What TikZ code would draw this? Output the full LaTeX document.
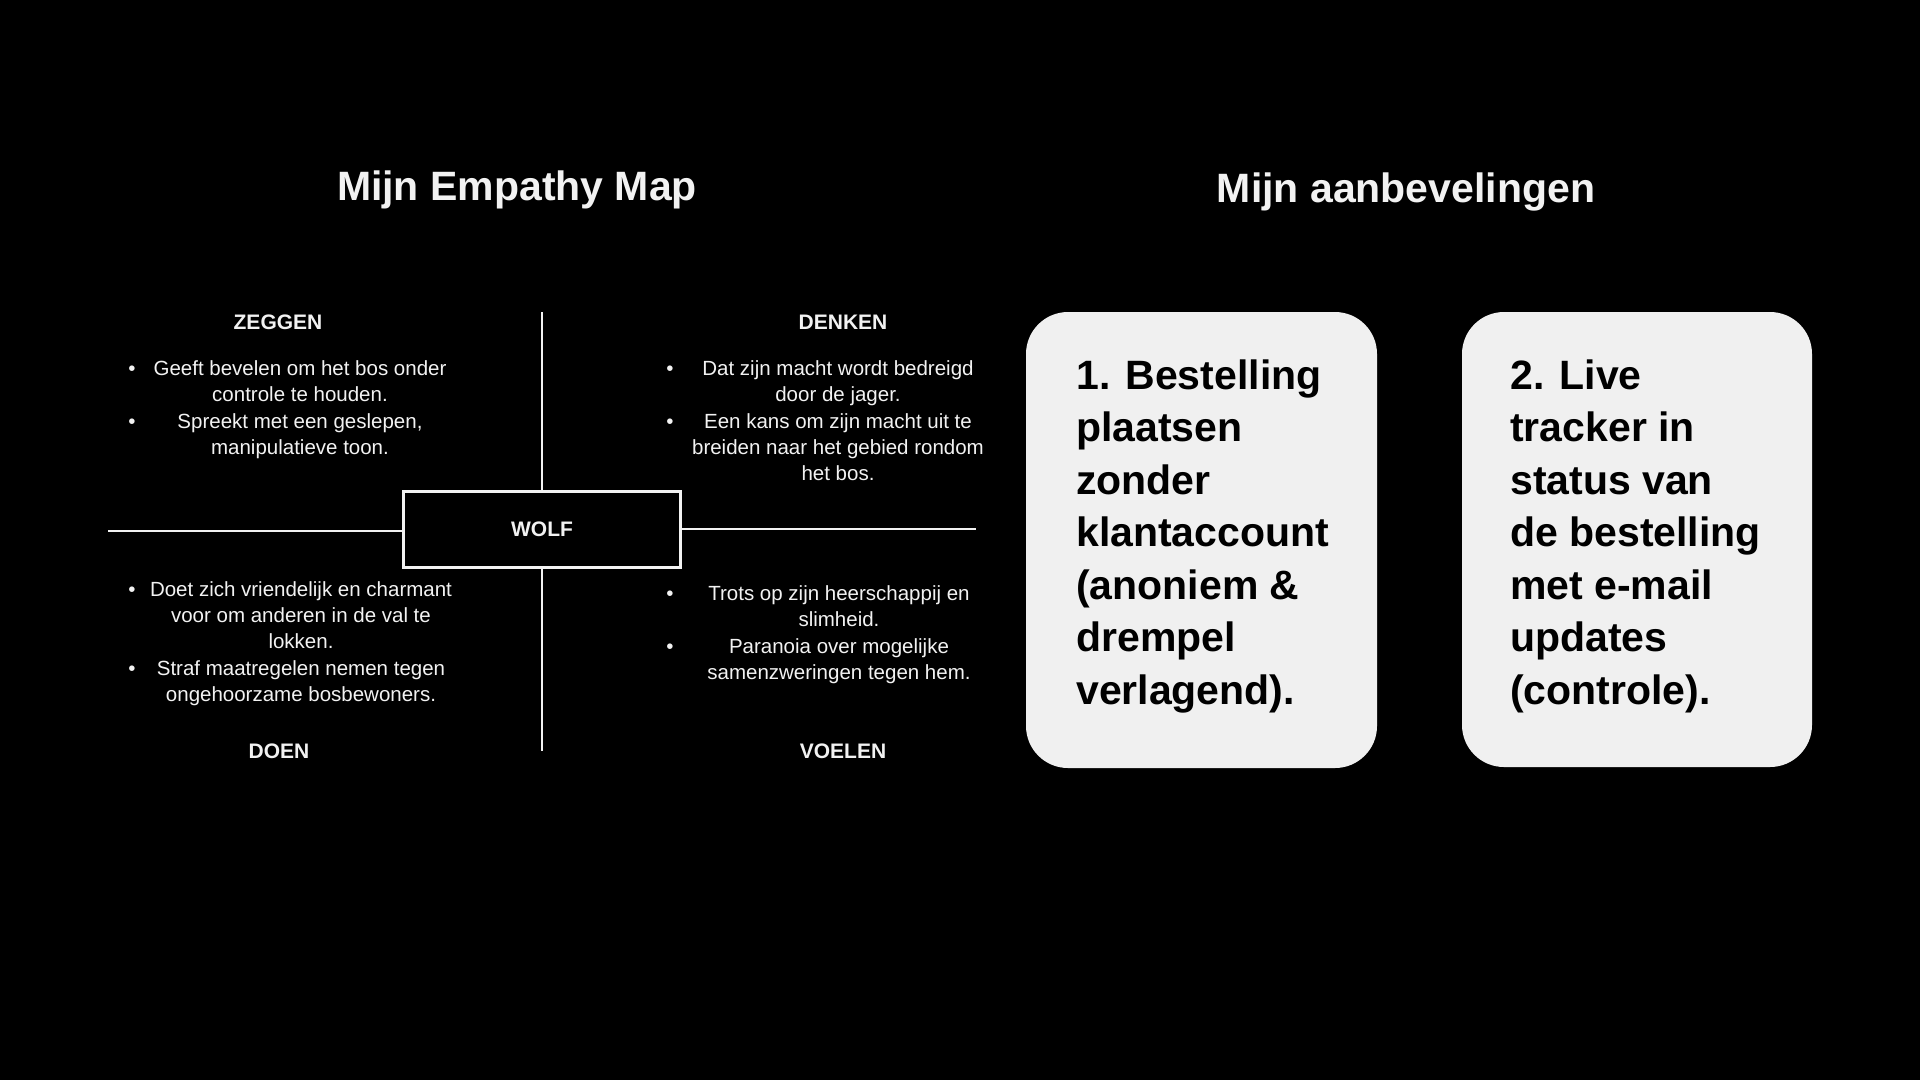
\documentclass[tikz,border=0pt]{standalone}
\usepackage{fontspec}
\setmainfont{Liberation Sans}
\definecolor{fg}{HTML}{F2F2F2}
\definecolor{card}{HTML}{F0F0F0}
\begin{document}
\begin{tikzpicture}[x=1pt,y=-1pt,
  title/.style={anchor=base, text=fg, inner sep=0pt, font=\fontsize{41}{49}\selectfont\bfseries},
  quad/.style={anchor=base, text=fg, inner sep=0pt, font=\fontsize{21}{25}\selectfont\bfseries},
  item/.style={anchor=north, text=fg, inner sep=0pt, align=center, font=\fontsize{20.5}{26.3}\selectfont},
  bul/.style={anchor=base, text=fg, inner sep=0pt, font=\fontsize{20.5}{26.3}\selectfont},
  axis/.style={draw=fg, line width=2pt},
  cardbox/.style={fill=card, draw=none, rounded corners=42pt, inner sep=0pt},
  cardtext/.style={anchor=north west, text=black, inner sep=0pt, align=left, font=\fontsize{41}{52.5}\selectfont\bfseries}
]
\fill[black] (0,0) rectangle (1920,1080);
\useasboundingbox (0,0) rectangle (1920,1080);

% titles
\node[title] (t1) at (517,200) {Mijn Empathy Map};
\node[title] (t2) at (1406,202) {Mijn aanbevelingen};

% center box
\node[draw=fg, line width=3pt, minimum width=277pt, minimum height=76pt, inner sep=0pt,
      text=fg, font=\fontsize{21}{25}\selectfont\bfseries] (wolf) at (542,529) {WOLF};

% axes
\coordinate (atop) at (542,312);
\coordinate (abot) at (542,751);
\coordinate (aleft) at (108,531);
\coordinate (aright) at (976,529);
\draw[axis] (wolf.north) -- (atop);
\draw[axis] (wolf.south) -- (abot);
\draw[axis] (aleft) -- (aleft -| wolf.west);
\draw[axis] (aright -| wolf.east) -- (aright);

% quadrant labels
\node[quad] (zeggen) at (278,329) {ZEGGEN};
\node[quad] (denken) at (843,329) {DENKEN};
\node[quad] (doen) at (279,758) {DOEN};
\node[quad] (voelen) at (843,758) {VOELEN};

% ZEGGEN items
\node[bul] (bz1) at (132,375) {•};
\node[item] (z1) at (300,356.6) {\strut Geeft bevelen om het bos onder\\controle te houden.};
\node[bul] (bz2) at (132,428) {•};
\node[item] (z2) at (300,409.6) {\strut Spreekt met een geslepen,\\manipulatieve toon.};

% DENKEN items
\node[bul] (bd1) at (670,375) {•};
\node[item] (d1) at (838,356.6) {\strut Dat zijn macht wordt bedreigd\\door de jager.};
\node[bul] (bd2) at (670,428) {•};
\node[item] (d2) at (838,409.6) {\strut Een kans om zijn macht uit te\\breiden naar het gebied rondom\\het bos.};

% DOEN items
\node[bul] (bo1) at (132,596) {•};
\node[item] (o1) at (301,577.6) {\strut Doet zich vriendelijk en charmant\\voor om anderen in de val te\\lokken.};
\node[bul] (bo2) at (132,675) {•};
\node[item] (o2) at (301,656.6) {\strut Straf maatregelen nemen tegen\\ongehoorzame bosbewoners.};

% VOELEN items
\node[bul] (bv1) at (670,600) {•};
\node[item] (v1) at (839,581.6) {\strut Trots op zijn heerschappij en\\slimheid.};
\node[bul] (bv2) at (670,653) {•};
\node[item] (v2) at (839,634.6) {\strut Paranoia over mogelijke\\samenzweringen tegen hem.};

% cards
\node[cardbox, minimum width=351pt, minimum height=456pt] (c1) at (1201.5,540) {};
\node[cardbox, minimum width=350pt, minimum height=455pt] (c2) at (1637,539.5) {};
\node[cardtext] (c1t) at (1076,352.5) {\strut 1. Bestelling\\plaatsen\\zonder\\klantaccount\\(anoniem \&\\drempel\\verlagend).};
\node[cardtext] (c2t) at (1510,352.5) {\strut 2. Live\\tracker in\\status van\\de bestelling\\met e-mail\\updates\\(controle).};
\end{tikzpicture}
\end{document}
